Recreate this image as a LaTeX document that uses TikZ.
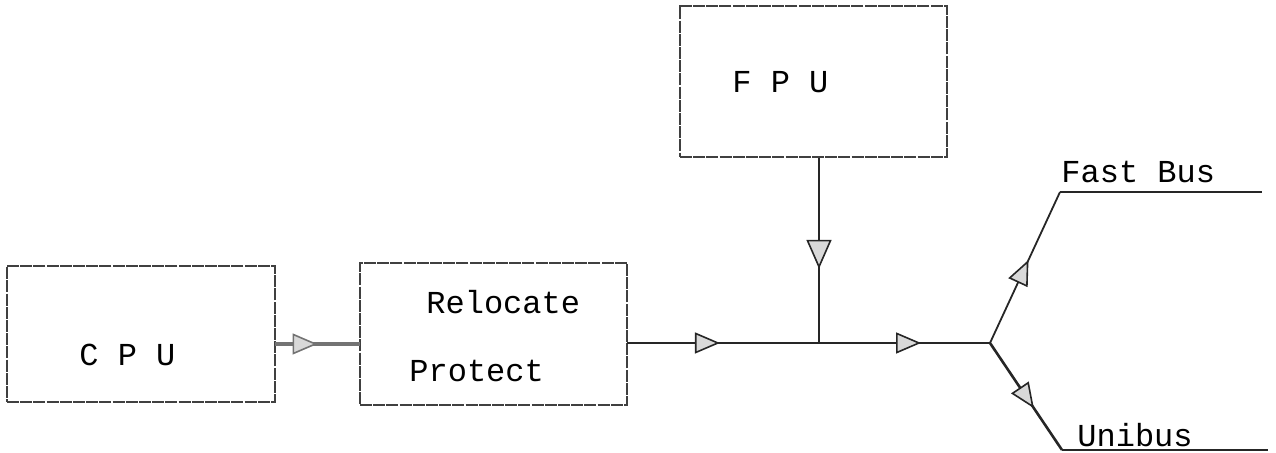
\documentclass[tikz,border=0pt]{standalone}
\usepackage{fontspec}
\setmonofont{Liberation Mono}
\usetikzlibrary{arrows.meta,decorations.markings}
\begin{document}
\begin{tikzpicture}[x=0.5pt,y=-0.5pt,
  tri/.tip={Triangle[length=12.5pt,width=10.5pt,fill=gray!30,line width=0.8pt]},
  bigtri/.tip={Triangle[length=14.5pt,width=12.5pt,fill=gray!30,line width=0.8pt]},
  blockbox/.style={draw=black!75,line width=0.7pt,dash pattern=on 6pt off 0.6pt,rectangle,inner sep=0pt},
  lbl/.style={font=\ttfamily\fontsize{16}{19}\selectfont,inner sep=0pt,anchor=base west},
  conn/.style={line width=1.3pt,black!85},
  midarrow/.style={postaction={decorate},decoration={markings,mark=at position #1 with {\arrow{tri}}}},
  bigarrow/.style={postaction={decorate},decoration={markings,mark=at position #1 with {\arrow{bigtri}}}},
  twoarrows/.style 2 args={postaction={decorate},decoration={markings,mark=at position #1 with {\arrow{tri}},mark=at position #2 with {\arrow{tri}}}}
]
\useasboundingbox (0,0) rectangle (1276,453);
% boxes
\node[blockbox,minimum width=134pt,minimum height=68pt] (cpu) at (141,334) {};
\node[blockbox,minimum width=133.5pt,minimum height=71pt] (rel) at (493.5,334) {};
\node[blockbox,minimum width=133.5pt,minimum height=75.5pt] (fpu) at (813.5,81.5) {};
% texts
\node[lbl] (tcpu) at (79,366) {C P U};
\node[lbl] (trel) at (426,314) {Relocate};
\node[lbl] (tpro) at (409,382) {Protect};
\node[lbl] (tfpu) at (732,93) {F P U};
\node[lbl] (tfb) at (1061,183) {Fast Bus};
\node[lbl] (tub) at (1077,447) {Unibus};
% coordinates
\coordinate (tap) at (819,343);
\coordinate (j) at (990,343);
\coordinate (fbc) at (1060,192);
\coordinate (fbe) at (1262,192);
\coordinate (ubc) at (1062,450);
\coordinate (ube) at (1268,450);
\coordinate (ca) at (275,344);
\coordinate (cb) at (360,344);
\coordinate (ra) at (627,343);
% connectors
\draw[conn,line width=2.4pt,black!55,midarrow=0.5] (ca) -- (cb);
\draw[conn,twoarrows={0.256}{0.81}] (ra) -- (j);
\draw[conn,line width=0.8pt,bigarrow=0.6] (fpu.south -| tap) -- (tap);
\draw[conn,line width=0.9pt,midarrow=0.55] (j) -- (fbc);
\draw[conn] (fbc) -- (fbe);
\draw[conn,midarrow=0.61] (j) -- (ubc);
\draw[conn] (ubc) -- (ube);
\end{tikzpicture}
\end{document}
